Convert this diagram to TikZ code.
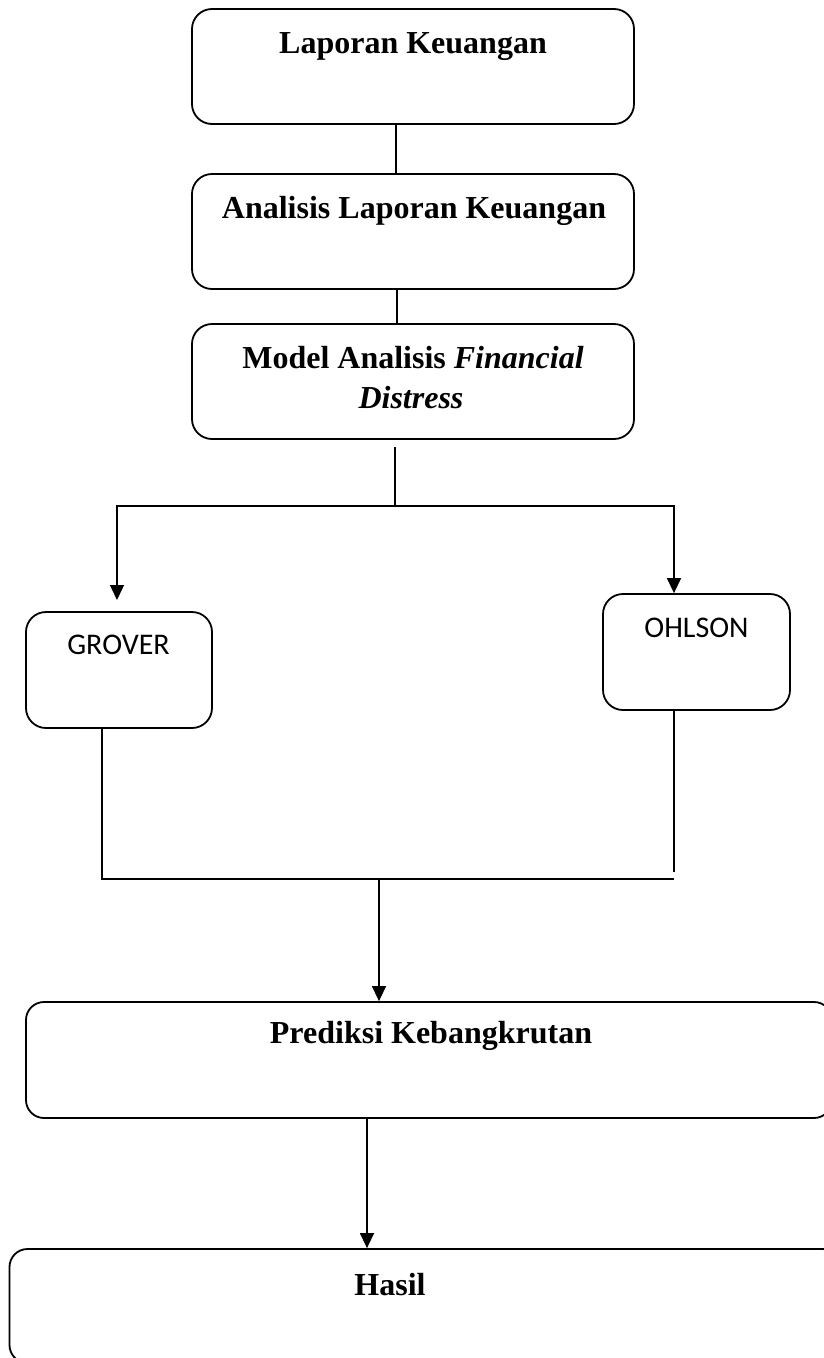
\documentclass[tikz,border=0pt]{standalone}
\usepackage{fontspec}
\setmainfont{Liberation Serif}
\newfontfamily\carl{Carlito}
\usetikzlibrary{arrows.meta}
\begin{document}
\begin{tikzpicture}[x=1pt,y=-1pt,
  box/.style={draw,line width=1.8pt,rounded corners=20pt,inner sep=0pt},
  ttl/.style={anchor=base,inner sep=0pt,font=\fontsize{32}{40}\selectfont\bfseries},
  stl/.style={anchor=base,inner sep=0pt,font=\fontsize{30}{36}\selectfont\carl},
  conn/.style={line width=1.4pt},
  arr/.style={line width=1.4pt,-{Triangle[length=15pt,width=14pt]}}]
\useasboundingbox (0,0) rectangle (824,1358);
\fill[white] (0,0) rectangle (824,1358);
% boxes
\node[box,minimum width=442pt,minimum height=115pt] (b1) at (413,66.5) {};
\node[box,minimum width=442pt,minimum height=115pt] (b2) at (413,231.5) {};
\node[box,minimum width=442pt,minimum height=115pt] (b3) at (413,381.5) {};
\node[box,minimum width=186pt,minimum height=116pt] (grover) at (119,670) {};
\node[box,minimum width=187pt,minimum height=116pt] (ohlson) at (696.5,652) {};
\node[box,rounded corners=18pt,minimum width=806pt,minimum height=116pt] (pred) at (429,1060) {};
\node[box,rounded corners=18pt,minimum width=831pt,minimum height=114pt] (hasil) at (425,1306) {};
% texts
\node[ttl] (t1) at (413,53) {Laporan Keuangan};
\node[ttl] (t2) at (414,218) {Analisis Laporan Keuangan};
\node[ttl] (t3a) at (413,368) {Model Analisis \textit{Financial}};
\node[ttl] (t3b) at (411,408) {\textit{Distress}};
\node[stl] (tg) at (118.5,654) {GROVER};
\node[stl] (to) at (696.5,637) {OHLSON};
\node[ttl] (tp) at (431,1043) {Prediksi Kebangkrutan};
\node[ttl] (th) at (390,1295) {Hasil};
% connectors
\draw[conn] (b1.south -| 396,0) -- (b2.north -| 396,0);
\draw[conn] (b2.south -| 397,0) -- (b3.north -| 397,0);
\coordinate (s0) at (395,447);
\coordinate (s1) at (395,506);
\coordinate (gl) at (117,600);
\coordinate (oh) at (674,506);
\draw[conn] (s0) -- (s1);
\draw[arr] (s1) -| (gl);
\draw[arr] (s1) -| (ohlson.north -| oh);
% merge
\coordinate (ml) at (102,879);
\coordinate (mr) at (674,879);
\coordinate (mrt) at (674,872);
\coordinate (mc) at (379,879);
\draw[conn] (grover.south -| ml) -- (ml) -- (mr);
\draw[conn] (ohlson.south -| mr) -- (mrt);
\draw[arr] (mc) -- (pred.north -| mc);
\draw[arr] (pred.south -| 367,0) -- (hasil.north -| 367,0);
\end{tikzpicture}
\end{document}
